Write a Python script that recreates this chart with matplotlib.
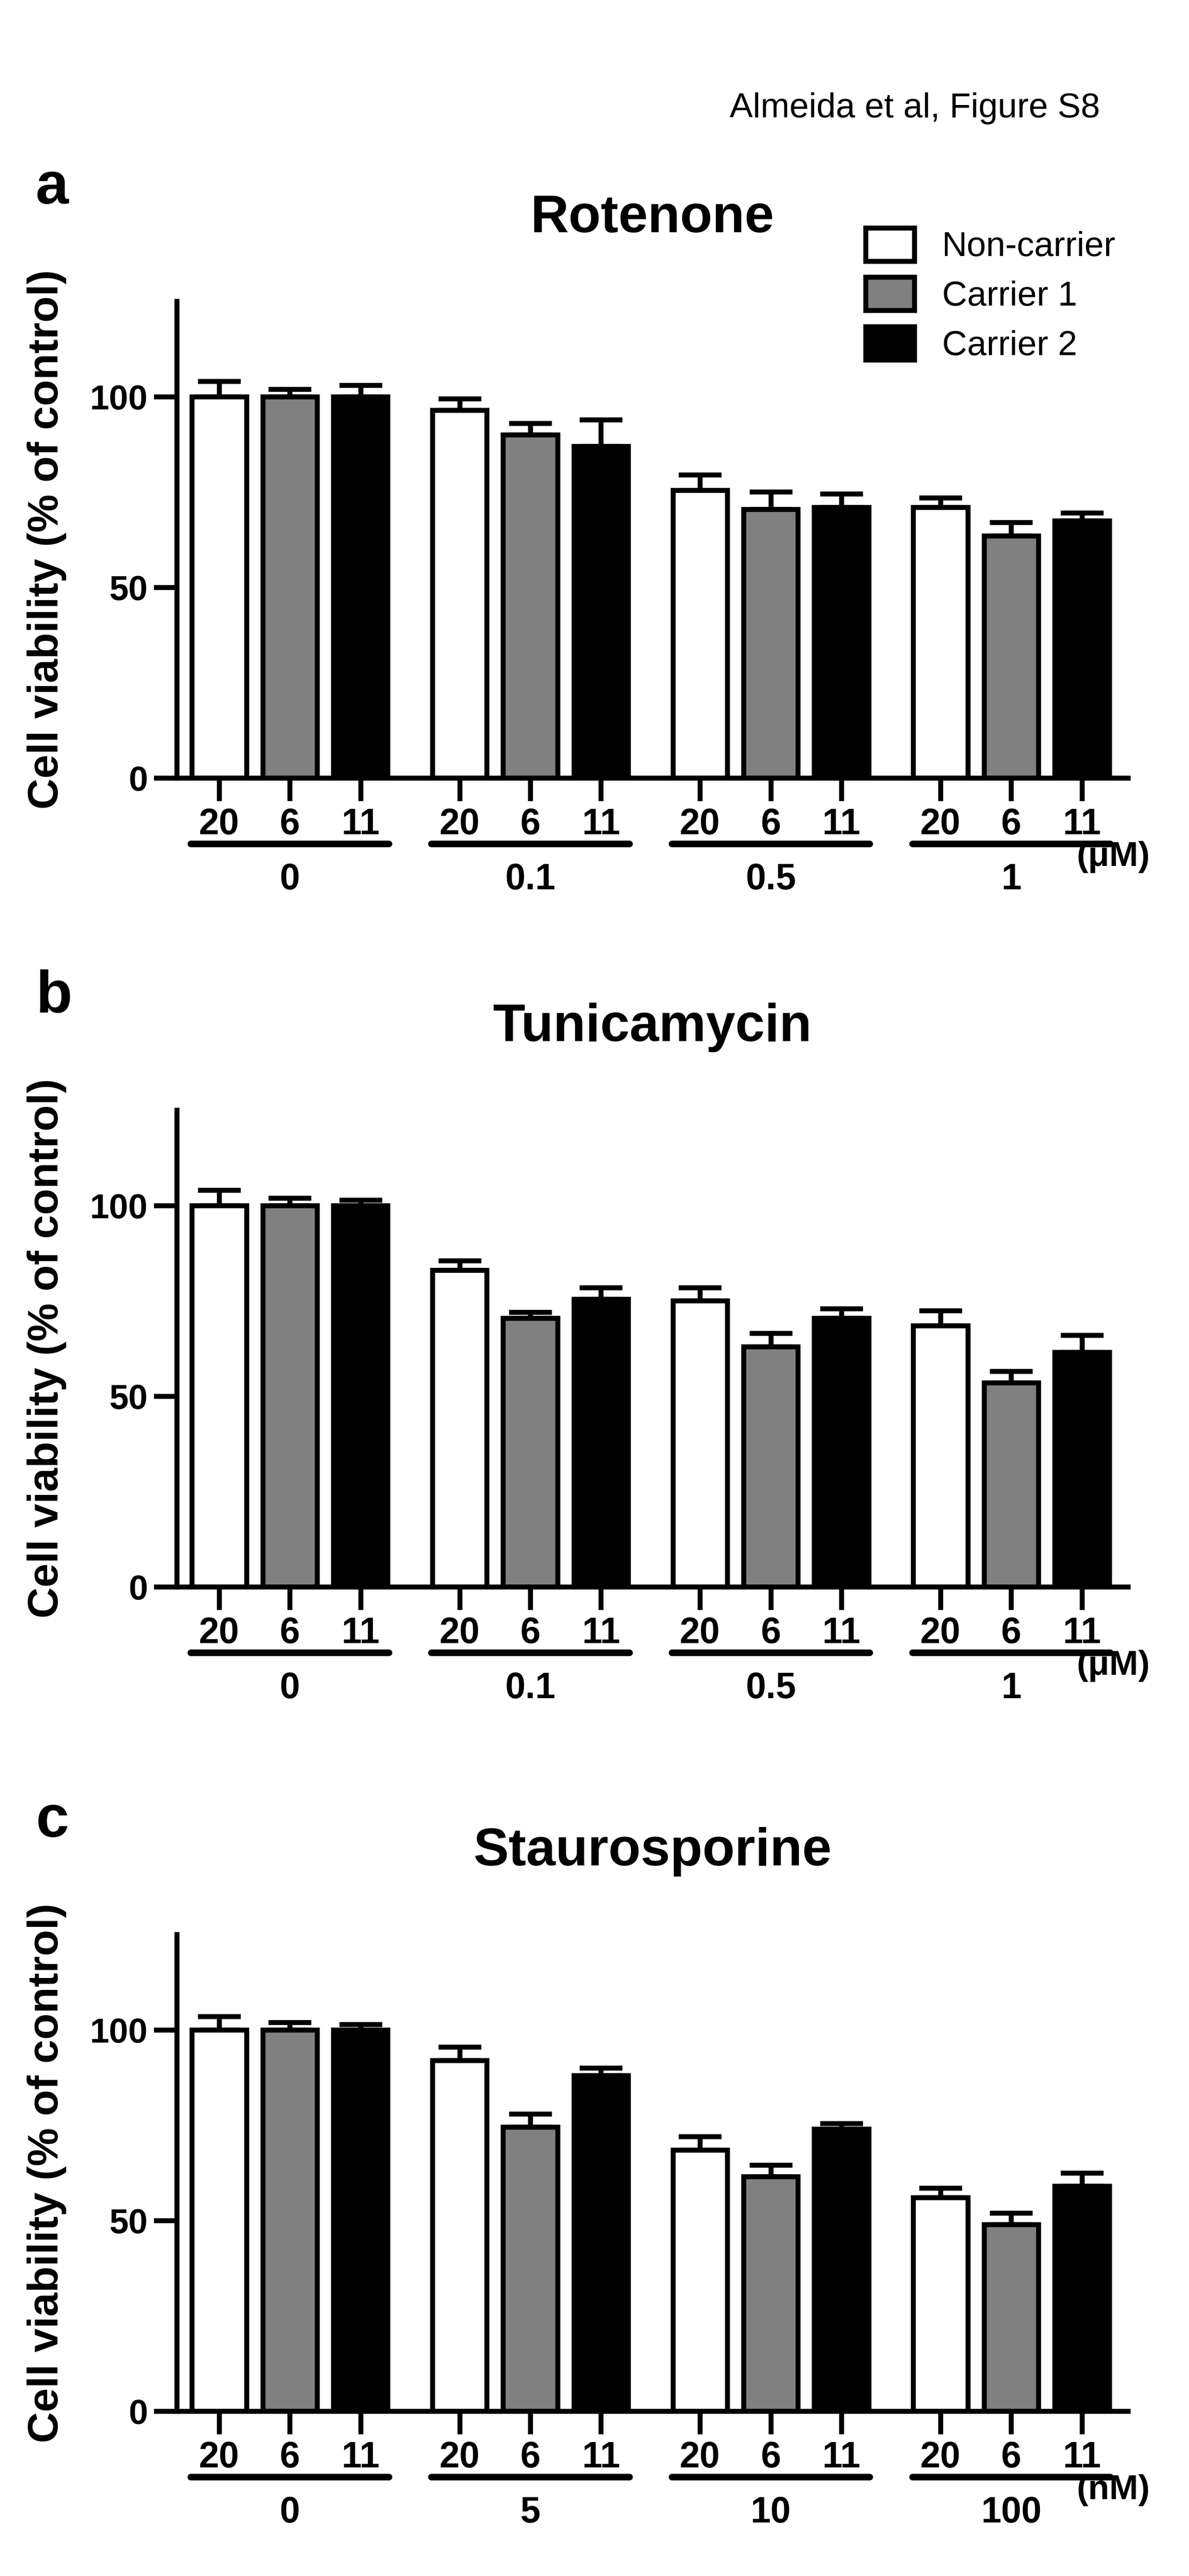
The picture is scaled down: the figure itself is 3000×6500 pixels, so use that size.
import numpy as np
import matplotlib.pyplot as plt
from matplotlib.patches import Patch
from matplotlib.transforms import blended_transform_factory

plt.rcParams['font.family'] = ['Liberation Sans', 'DejaVu Sans']

series_names = ["Non-carrier", "Carrier 1", "Carrier 2"]
series_n = ["20", "6", "11"]
colors = ["white", "#808080", "black"]

titles = ["Rotenone", "Tunicamycin", "Staurosporine"]
letters = ["a", "b", "c"]
doses = [["0", "0.1", "0.5", "1"], ["0", "0.1", "0.5", "1"], ["0", "5", "10", "100"]]
units = ["(\u03bcM)", "(\u03bcM)", "(nM)"]

rot_mean = [[100, 100, 100], [96.5, 90, 87], [75.5, 70.5, 71], [71, 63.5, 67.5]]
rot_err = [[4, 2, 3], [3, 3, 7], [4, 4.5, 3.5], [2.5, 3.5, 2]]
tun_mean = [[100, 100, 100], [83, 70.5, 75.5], [75, 63, 70.5], [68.5, 53.5, 61.5]]
tun_err = [[4, 2, 1.5], [2.5, 1.5, 3], [3.5, 3.5, 2.5], [4, 3, 4.5]]
sta_mean = [[100, 100, 100], [92, 74.5, 88], [68.5, 61.5, 74], [56, 49, 59]]
sta_err = [[3.5, 2, 1.5], [3.5, 3.5, 2], [3.5, 3, 1.5], [2.5, 3, 3.5]]

means = [rot_mean, tun_mean, sta_mean]
errs = [rot_err, tun_err, sta_err]

fig = plt.figure(figsize=(10, 21.667), dpi=300)
fig.text(0.925, 0.958, "Almeida et al, Figure S8", fontsize=21, ha="right", va="center")

bottoms = [0.698, 0.384, 0.064]
gstep = 3.4
bw = 0.77

for p in range(3):
    ax = fig.add_axes([0.1486, bottoms[p], 0.8, 0.185])
    m = np.array(means[p])
    e = np.array(errs[p])
    ticks = []
    ticklabels = []
    for g in range(4):
        for i in range(3):
            x = g * gstep + i
            ax.bar(x, m[g, i], bw, color=colors[i], edgecolor="black", linewidth=3, zorder=2)
            ax.errorbar(x, m[g, i], yerr=[[0], [e[g, i]]], fmt="none", ecolor="black",
                        elinewidth=3, capsize=13, capthick=3, zorder=1)
            ticks.append(x)
            ticklabels.append(series_n[i])
    ax.set_xlim(-0.6, 3 * gstep + 2 + 0.65)
    ax.set_ylim(0, 125)
    ax.set_yticks([0, 50, 100])
    ax.set_xticks(ticks)
    ax.set_xticklabels(ticklabels, fontsize=22, fontweight="bold")
    for lab in ax.get_yticklabels():
        lab.set_fontsize(21)
        lab.set_fontweight("bold")
    ax.tick_params(axis="both", width=3, length=14, direction="out")
    ax.tick_params(axis="x", pad=4)
    for s in ["top", "right"]:
        ax.spines[s].set_visible(False)
    for s in ["left", "bottom"]:
        ax.spines[s].set_linewidth(3)
    ax.set_ylabel("Cell viability (% of control)", fontsize=26, fontweight="bold", labelpad=14)
    ax.set_title(titles[p], fontsize=32, fontweight="bold", pad=42)
    tr = blended_transform_factory(ax.transData, ax.transAxes)
    for g in range(4):
        x0 = g * gstep - 0.4
        x1 = g * gstep + 2.4
        ax.plot([x0, x1], [-0.138, -0.138], color="black", lw=4, solid_capstyle="round",
                transform=tr, clip_on=False)
        ax.text(g * gstep + 1, -0.214, doses[p][g], fontsize=22, fontweight="bold",
                ha="center", va="center", transform=tr)
    ax.text(0.946, -0.166, units[p], fontsize=21, fontweight="bold",
            ha="left", va="center", transform=ax.transAxes)
    fig.text(0.03, bottoms[p] + 0.185 + 0.044, letters[p], fontsize=36, fontweight="bold",
             ha="left", va="center")
    if p == 0:
        handles = [Patch(facecolor=c, edgecolor="black", linewidth=3) for c in colors]
        ax.legend(handles, series_names, loc="upper right", bbox_to_anchor=(1.02, 1.22),
                  frameon=False, fontsize=21, handlelength=1.4, handleheight=1.1,
                  labelspacing=0.4)

fig.savefig("out.png", dpi=300)
